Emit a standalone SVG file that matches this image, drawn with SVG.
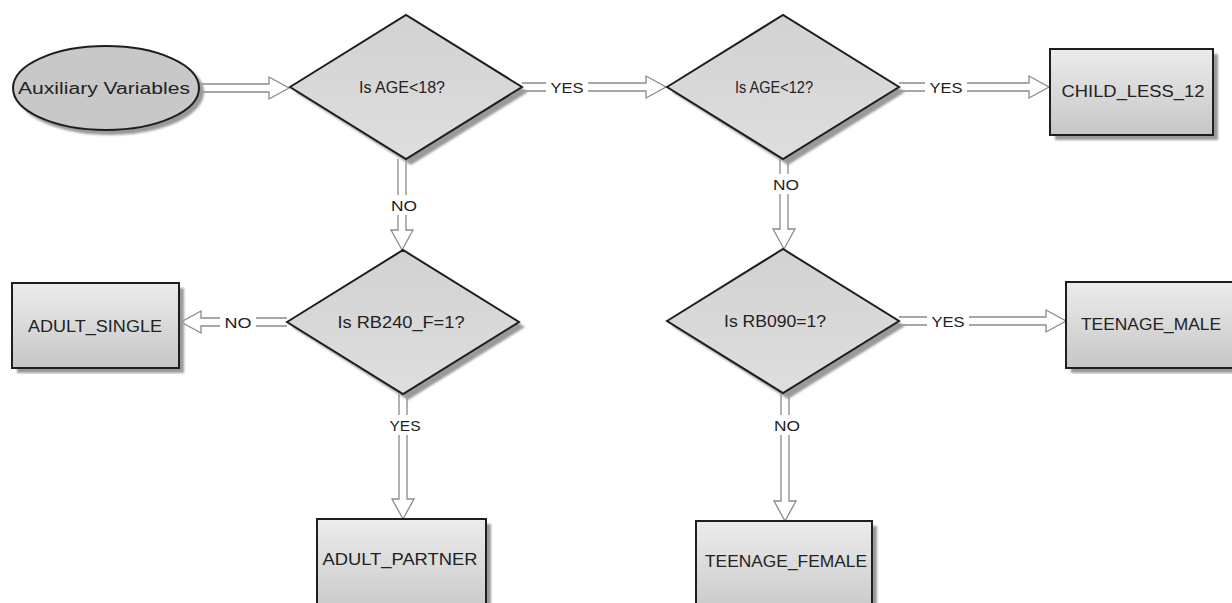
<svg xmlns="http://www.w3.org/2000/svg" width="1232" height="603" viewBox="0 0 1232 603">
  <defs>
    <linearGradient id="boxFill" x1="0" y1="0" x2="0" y2="1">
      <stop offset="0" stop-color="#ececec"/>
      <stop offset="1" stop-color="#c6c6c6"/>
    </linearGradient>
    <linearGradient id="diaFill" x1="0" y1="0" x2="0" y2="1">
      <stop offset="0" stop-color="#d2d2d2"/>
      <stop offset="1" stop-color="#dedede"/>
    </linearGradient>
    <filter id="soft" x="-10%" y="-10%" width="120%" height="120%">
      <feGaussianBlur stdDeviation="1"/>
    </filter>
  </defs>
  <style>
    .shape { stroke: #1e1e1e; stroke-width: 2; }
    .box { fill: url(#boxFill); }
    .dia { fill: url(#diaFill); }
    .shadow { fill: #9a9a9a; stroke: none; filter: url(#soft); }
    .arrow { fill: #ffffff; stroke: #8a8a8a; stroke-width: 1.3; stroke-linejoin: miter; }
    .gap { fill: #ffffff; stroke: none; }
    text { font-family: "Liberation Sans", Arial, sans-serif; font-size: 16px; fill: #222222; text-anchor: middle; }
    text.lbl { font-size: 15px; }
  </style>
  <rect width="1232" height="603" fill="#ffffff"/>

  <!-- connectors: hollow double-line arrows, label gaps cut with white -->
  <g id="connectors">
    <path class="arrow" d="M201 84 H269 V77 L289 88 L269 99 V92 H201"/>

    <path class="arrow" d="M522 83 H646 V76 L666 87 L646 98 V91 H522"/>
    <rect class="gap" x="546" y="78" width="42" height="18"/>
    <text class="lbl" x="567" y="93" textLength="33" lengthAdjust="spacingAndGlyphs">YES</text>

    <path class="arrow" d="M899 83 H1029 V76 L1049 87 L1029 98 V91 H899"/>
    <rect class="gap" x="925" y="78" width="42" height="18"/>
    <text class="lbl" x="946" y="93" textLength="33" lengthAdjust="spacingAndGlyphs">YES</text>

    <path class="arrow" d="M398 159 V230 H391 L402 250 L413 230 H406 V159"/>
    <rect class="gap" x="390" y="195" width="26" height="20"/>
    <text class="lbl" x="404" y="211" textLength="26" lengthAdjust="spacingAndGlyphs">NO</text>

    <path class="arrow" d="M287 318 H201 V311 L181 322 L201 333 V326 H287"/>
    <rect class="gap" x="220" y="313" width="36" height="18"/>
    <text class="lbl" x="238" y="328" textLength="27" lengthAdjust="spacingAndGlyphs">NO</text>

    <path class="arrow" d="M399 394 V499 H392 L403 519 L414 499 H407 V394"/>
    <rect class="gap" x="388" y="415" width="34" height="20"/>
    <text class="lbl" x="405" y="431" textLength="31" lengthAdjust="spacingAndGlyphs">YES</text>

    <path class="arrow" d="M780 159 V229 H773 L784 249 L795 229 H788 V159"/>
    <rect class="gap" x="772" y="174" width="26" height="20"/>
    <text class="lbl" x="786" y="190" textLength="26" lengthAdjust="spacingAndGlyphs">NO</text>

    <path class="arrow" d="M899 317 H1046 V310 L1066 321 L1046 332 V325 H899"/>
    <rect class="gap" x="927" y="312" width="42" height="18"/>
    <text class="lbl" x="948" y="327" textLength="33" lengthAdjust="spacingAndGlyphs">YES</text>

    <path class="arrow" d="M781 393 V501 H774 L785 521 L796 501 H789 V393"/>
    <rect class="gap" x="773" y="415" width="26" height="20"/>
    <text class="lbl" x="787" y="431" textLength="26" lengthAdjust="spacingAndGlyphs">NO</text>
  </g>

  <!-- start node -->
  <g id="auxiliary-variables">
    <ellipse class="shadow" cx="110" cy="92" rx="94" ry="43"/>
    <ellipse class="shape" cx="106" cy="88" rx="93" ry="42" fill="#c8c8c8"/>
    <text x="104" y="94" textLength="172" lengthAdjust="spacingAndGlyphs">Auxiliary Variables</text>
  </g>

  <!-- decisions -->
  <g id="is-age-lt-18">
    <polygon class="shadow" points="295,92 411,20 528,92 411,165"/>
    <polygon class="shape dia" points="290,87 406,15 522,87 406,159"/>
    <text x="402" y="93" textLength="86" lengthAdjust="spacingAndGlyphs">Is AGE&lt;18?</text>
  </g>

  <g id="is-age-lt-12">
    <polygon class="shadow" points="672,92 788,20 905,92 788,165"/>
    <polygon class="shape dia" points="667,87 783,15 899,87 783,159"/>
    <text x="774" y="93" textLength="78" lengthAdjust="spacingAndGlyphs">Is AGE&lt;12?</text>
  </g>

  <g id="is-rb240-f-eq-1">
    <polygon class="shadow" points="292,327 408,255 525,327 408,400"/>
    <polygon class="shape dia" points="287,322 403,250 519,322 403,394"/>
    <text x="401" y="328" textLength="127" lengthAdjust="spacingAndGlyphs">Is RB240_F=1?</text>
  </g>

  <g id="is-rb090-eq-1">
    <polygon class="shadow" points="672,326 788,254 905,326 788,399"/>
    <polygon class="shape dia" points="667,321 783,249 899,321 783,393"/>
    <text x="775" y="327" textLength="102" lengthAdjust="spacingAndGlyphs">Is RB090=1?</text>
  </g>

  <!-- outcomes -->
  <g id="child-less-12">
    <rect class="shadow" x="1055" y="54" width="163" height="86"/>
    <rect class="shape box" x="1050" y="49" width="163" height="86"/>
    <text x="1133" y="97" textLength="143" lengthAdjust="spacingAndGlyphs">CHILD_LESS_12</text>
  </g>

  <g id="adult-single">
    <rect class="shadow" x="17" y="288" width="167" height="85"/>
    <rect class="shape box" x="12" y="283" width="167" height="85"/>
    <text x="95" y="332" textLength="134" lengthAdjust="spacingAndGlyphs">ADULT_SINGLE</text>
  </g>

  <g id="teenage-male">
    <rect class="shadow" x="1071" y="287" width="180" height="86"/>
    <rect class="shape box" x="1066" y="282" width="180" height="86"/>
    <text x="1151" y="330" textLength="140" lengthAdjust="spacingAndGlyphs">TEENAGE_MALE</text>
  </g>

  <g id="adult-partner">
    <rect class="shadow" x="322" y="524" width="169" height="100"/>
    <rect class="shape box" x="317" y="519" width="169" height="100"/>
    <text x="400" y="565" textLength="155" lengthAdjust="spacingAndGlyphs">ADULT_PARTNER</text>
  </g>

  <g id="teenage-female">
    <rect class="shadow" x="701" y="526" width="176" height="100"/>
    <rect class="shape box" x="696" y="521" width="176" height="100"/>
    <text x="786" y="567" textLength="162" lengthAdjust="spacingAndGlyphs">TEENAGE_FEMALE</text>
  </g>
</svg>
